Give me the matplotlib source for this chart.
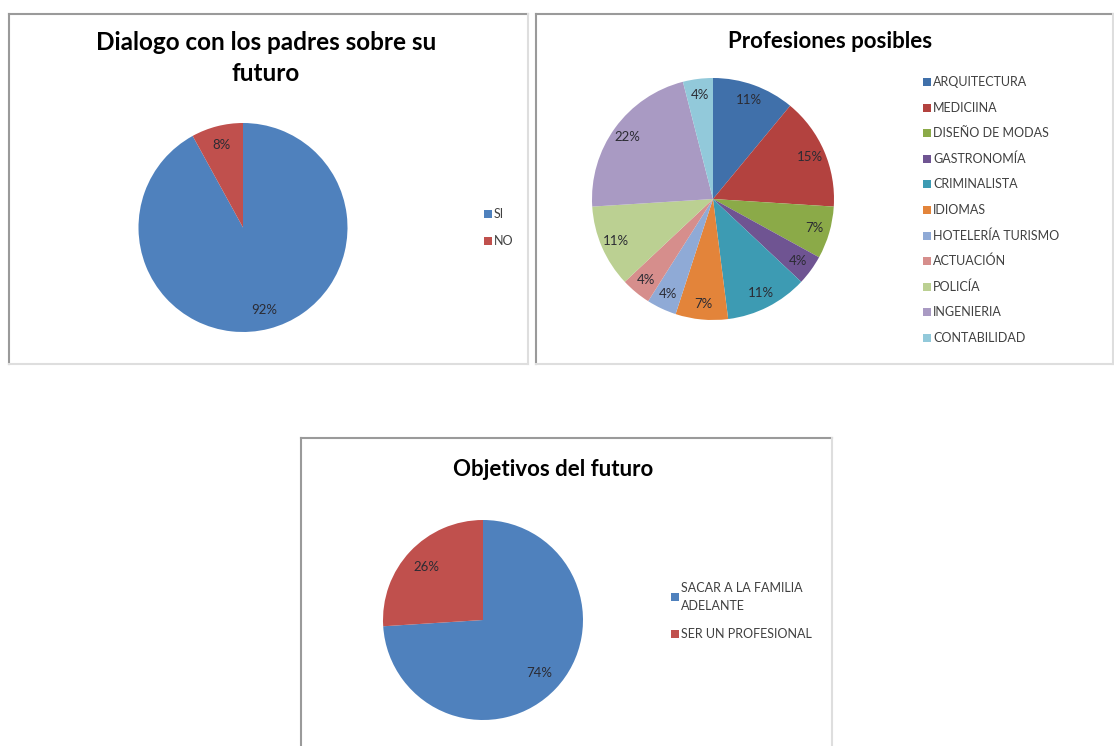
import matplotlib
matplotlib.use('Agg')
import matplotlib.pyplot as plt
from matplotlib.patches import Rectangle
from matplotlib.lines import Line2D

W, H = 1114, 746

# --- data ---
dialogo_labels = ['SI', 'NO']
dialogo_values = [92, 8]
dialogo_colors = ['#4F81BD', '#C0504D']

prof_labels = ['ARQUITECTURA', 'MEDICIINA', 'DISEÑO DE MODAS', 'GASTRONOMÍA',
               'CRIMINALISTA', 'IDIOMAS', 'HOTELERÍA TURISMO', 'ACTUACIÓN',
               'POLICÍA', 'INGENIERIA', 'CONTABILIDAD']
prof_values = [11, 15, 7, 4, 11, 7, 4, 4, 11, 22, 4]
prof_colors = ['#4070AA', '#B3423F', '#8BAA48', '#6F5492', '#3D9BB3', '#E3843A',
               '#8FAAD6', '#D68E8C', '#BBD092', '#A99AC3', '#92C9DA']

obj_labels = ['SACAR A LA FAMILIA\nADELANTE', 'SER UN PROFESIONAL']
obj_values = [74, 26]
obj_colors = ['#4F81BD', '#C0504D']

plt.rcParams['font.family'] = ['Lato', 'DejaVu Sans']

fig = plt.figure(figsize=(W / 100, H / 100), dpi=100)


def fx(x):
    return x / W


def fy(y):
    return 1 - y / H


def frame(x0, y0, x1, y1):
    dark, light = '#9a9a9a', '#dedede'
    for xs, ys, c in [((x0, x0), (y0, y1), dark), ((x0, x1), (y0, y0), dark),
                      ((x1, x1), (y0, y1), light), ((x0, x1), (y1, y1), light)]:
        fig.add_artist(Line2D([fx(v) for v in xs], [fy(v) for v in ys],
                              transform=fig.transFigure, color=c, lw=1.5))


def pie(cx, cy, r, values, colors, pctdist):
    ax = fig.add_axes([fx(cx - r), fy(cy + r), 2 * r / W, 2 * r / H])
    wedges, _, autotexts = ax.pie(values, colors=colors, startangle=90,
                                  counterclock=False, radius=1,
                                  autopct='%1.0f%%', pctdistance=pctdist,
                                  wedgeprops=dict(linewidth=0),
                                  textprops=dict(fontsize=9.5, color='#2b2b33'))
    ax.set_xlim(-1, 1)
    ax.set_ylim(-1, 1)
    return wedges


def legend(x, ys, labels, wedges, size=9):
    for y, lab, w in zip(ys, labels, wedges):
        fig.add_artist(Rectangle((fx(x), fy(y + 4)), 8 / W, 8 / H,
                                 transform=fig.transFigure,
                                 facecolor=w.get_facecolor(), edgecolor='none'))
        fig.text(fx(x + 10), fy(y), lab, fontsize=size, color='#404040',
                 va='center', ha='left', linespacing=1.5)


# chart 1
frame(9, 14, 528, 364)
fig.text(fx(266), fy(58), 'Dialogo con los padres sobre su\nfuturo',
         ha='center', va='center', fontsize=17.5, fontweight='bold',
         linespacing=1.38)
w1 = pie(243, 227.5, 104.5, dialogo_values, dialogo_colors, 0.82)
legend(484, [214, 241], dialogo_labels, w1)

# chart 2
frame(536, 14, 1113, 364)
fig.text(fx(830), fy(42), 'Profesiones posibles', ha='center', va='center',
         fontsize=16, fontweight='bold')
w2 = pie(713, 199, 121, prof_values, prof_colors, 0.87)
legend(923, [82 + 25.6 * i for i in range(len(prof_labels))], prof_labels, w2)

# chart 3
frame(301, 438, 832, 760)
fig.text(fx(553), fy(470), 'Objetivos del futuro', ha='center', va='center',
         fontsize=16, fontweight='bold')
w3 = pie(483, 620, 100, obj_values, obj_colors, 0.77)
legend(671, [597, 634], obj_labels, w3)

fig.savefig('out.png', dpi=100)
